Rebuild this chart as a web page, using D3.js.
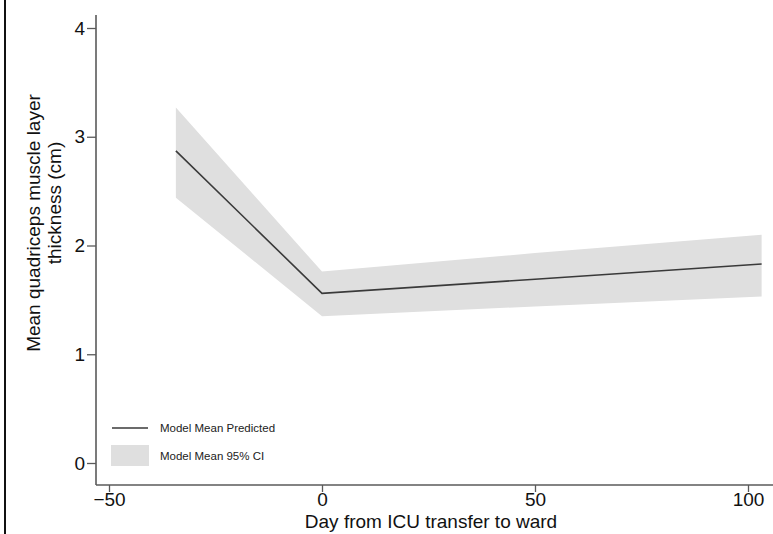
<!DOCTYPE html>
<html>
<head>
<meta charset="utf-8">
<script src="https://cdn.jsdelivr.net/npm/d3@7"></script>
<style>
  body { margin: 0; background: #fff; }
  svg { display: block; font-family: "Liberation Sans", Arial, sans-serif; }
</style>
</head>
<body>
<div id="chart"></div>
<script>
// model prediction, day from ICU transfer to ward
const days = [-34.3, 0, 50, 103.2];
const meanPred = [2.87, 1.56, 1.69, 1.83];
const ciUpper = [3.27, 1.76, 1.93, 2.10];
const ciLower = [2.44, 1.35, 1.44, 1.53];

const xTicks = [-50, 0, 50, 100];
const yTicks = [0, 1, 2, 3, 4];
const legendLabels = ['Model Mean Predicted', 'Model Mean 95% CI'];

const W = 773, H = 534;
const axisColor = '#5a5a5a';

const svg = d3.select('#chart').append('svg')
    .attr('width', W)
    .attr('height', H);

let xScale = d3.scaleLinear()
    .domain([-50, 100])
    .range([109, 748]);

let yScale = d3.scaleLinear()
    .domain([0, 4])
    .range([463, 28]);

const rows = days.map((d, i) => ({day: d, mean: meanPred[i], hi: ciUpper[i], lo: ciLower[i]}));

// outer left frame line
svg.append('line')
    .attr('x1', 5).attr('x2', 5)
    .attr('y1', 0).attr('y2', H)
    .attr('stroke', '#111')
    .attr('stroke-width', 2);

// CI band
svg.append('path')
    .datum(rows)
    .attr('fill', '#dfdfdf')
    .attr('d', d3.area()
        .x(d => xScale(d.day))
        .y0(d => yScale(d.lo))
        .y1(d => yScale(d.hi)));

// mean line
svg.append('path')
    .datum(rows)
    .attr('fill', 'none')
    .attr('stroke', '#3a3a3a')
    .attr('stroke-width', 1.6)
    .attr('d', d3.line()
        .x(d => xScale(d.day))
        .y(d => yScale(d.mean)));

// axes
const xAxisY = 485, yAxisX = 96;

const xAxis = svg.append('g')
    .attr('transform', 'translate(0,' + xAxisY + ')')
    .call(d3.axisBottom(xScale).tickValues(xTicks).tickSize(7).tickSizeOuter(0)
        .tickFormat(d => d < 0 ? '\u2212' + Math.abs(d) : d));
xAxis.select('.domain').remove();
xAxis.append('line')
    .attr('x1', yAxisX).attr('x2', W)
    .attr('stroke', axisColor).attr('stroke-width', 1.6);

const yAxis = svg.append('g')
    .attr('transform', 'translate(' + yAxisX + ',0)')
    .call(d3.axisLeft(yScale).tickValues(yTicks).tickSize(9).tickSizeOuter(0)
        .tickFormat(d3.format('d')));
yAxis.select('.domain').remove();
yAxis.append('line')
    .attr('y1', 15).attr('y2', xAxisY)
    .attr('stroke', axisColor).attr('stroke-width', 1.6);

svg.selectAll('.tick line')
    .attr('stroke', axisColor)
    .attr('stroke-width', 1.3);
svg.selectAll('.tick text')
    .attr('fill', '#111')
    .style('font-size', '19px')
    .style('font-family', '"Liberation Sans", Arial, sans-serif');
yAxis.selectAll('.tick text').attr('x', -11);
xAxis.selectAll('.tick text').attr('y', 8);

// axis titles
svg.append('text')
    .attr('x', 431)
    .attr('y', 528)
    .attr('text-anchor', 'middle')
    .attr('fill', '#111')
    .style('font-size', '19px')
    .text('Day from ICU transfer to ward');

svg.append('text')
    .attr('transform', 'translate(40,223) rotate(-90)')
    .attr('text-anchor', 'middle')
    .attr('fill', '#111')
    .style('font-size', '19px')
    .text('Mean quadriceps muscle layer');

svg.append('text')
    .attr('transform', 'translate(61,203) rotate(-90)')
    .attr('text-anchor', 'middle')
    .attr('fill', '#111')
    .style('font-size', '19px')
    .text('thickness (cm)');

// legend
const legend = svg.append('g');
legend.append('line')
    .attr('x1', 112).attr('x2', 148)
    .attr('y1', 428).attr('y2', 428)
    .attr('stroke', '#3a3a3a')
    .attr('stroke-width', 1.6);
legend.append('rect')
    .attr('x', 111).attr('y', 445)
    .attr('width', 38).attr('height', 21)
    .attr('fill', '#dfdfdf');
legend.selectAll('text.lab')
    .data(legendLabels)
    .enter()
    .append('text')
    .attr('class', 'lab')
    .attr('x', 160)
    .attr('y', (d, i) => 432 + i * 28)
    .attr('fill', '#222')
    .style('font-size', '11.5px')
    .text(d => d);
</script>
</body>
</html>
